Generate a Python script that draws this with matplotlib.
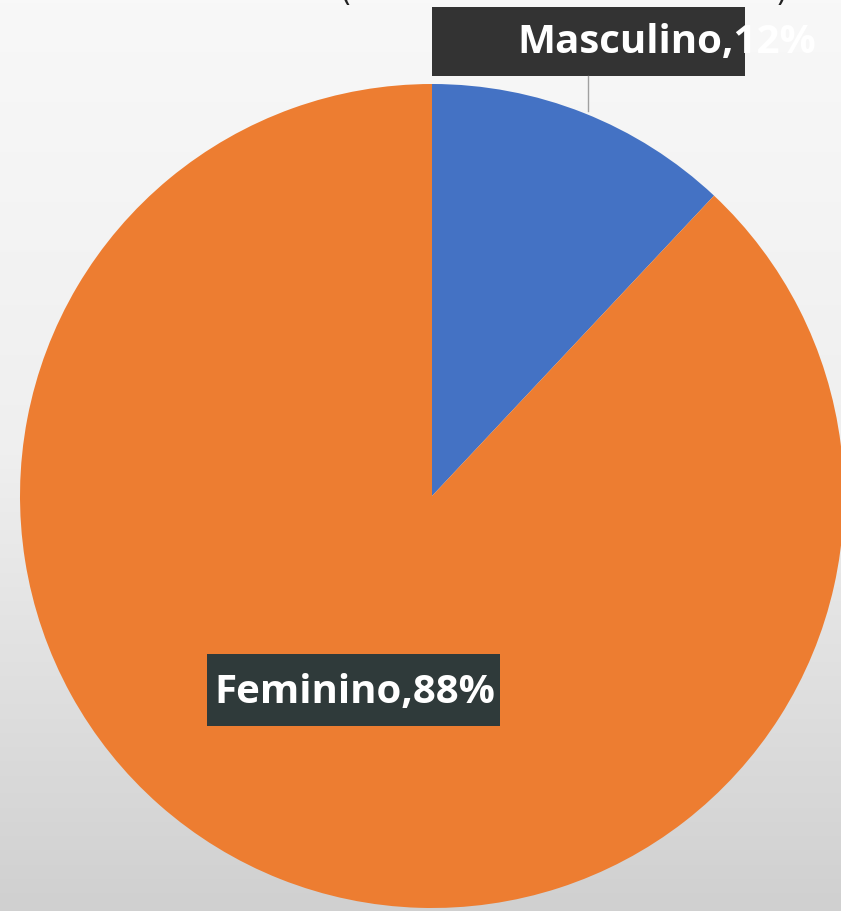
import numpy as np
import matplotlib.pyplot as plt
from matplotlib.colors import LinearSegmentedColormap
from matplotlib.patches import Rectangle

# data
labels = ['Masculino', 'Feminino']
values = [12, 88]
colors = ['#4472C4', '#ED7D31']

W, H = 841, 912
fig = plt.figure(figsize=(W / 100, H / 100), dpi=100)

# background gradient, light at top, grey at bottom
bg = fig.add_axes([0, 0, 1, 1])
grad = np.linspace(0, 1, 256).reshape(-1, 1)
bg.imshow(grad, aspect='auto', extent=[0, 1, 0, 1],
          cmap=LinearSegmentedColormap.from_list('g', ['#f8f8f8', '#efefef', '#d0d0d0']))
bg.axis('off')

ax = fig.add_axes([0, 0, 1, 1])
ax.patch.set_alpha(0)
ax.pie(values, colors=colors, startangle=90, counterclock=False,
       center=(432, H - 497), radius=412, frame=True,
       wedgeprops=dict(linewidth=0))
ax.set_xlim(0, W)
ax.set_ylim(0, H)
ax.axis('off')

font = ['Open Sans', 'DejaVu Sans']

# Masculino label (box covers part of the text, rest blends into background)
ax.plot([588, 588], [H - 77, H - 112], color='#a0a0a0', lw=1)
ax.add_patch(Rectangle((432, H - 77), 313, 69, facecolor='#333333', edgecolor='none'))
ax.text(517, H - 42, f'{labels[0]},{values[0]}%', color='white', fontsize=29,
        fontweight='bold', family=font, ha='left', va='center')

# Feminino label
ax.add_patch(Rectangle((207, H - 727), 293, 72, facecolor='#2f3a3a', edgecolor='none'))
ax.text(355, H - 693, f'{labels[1]},{values[1]}%', color='white', fontsize=29,
        fontweight='bold', family=font, ha='center', va='center')

# bottoms of the cut-off title parentheses at the top edge
ax.text(345, H + 8, '(', color='#222222', fontsize=22, ha='center', va='center')
ax.text(782, H + 8, ')', color='#222222', fontsize=22, ha='center', va='center')

fig.savefig('out.png', dpi=100)
